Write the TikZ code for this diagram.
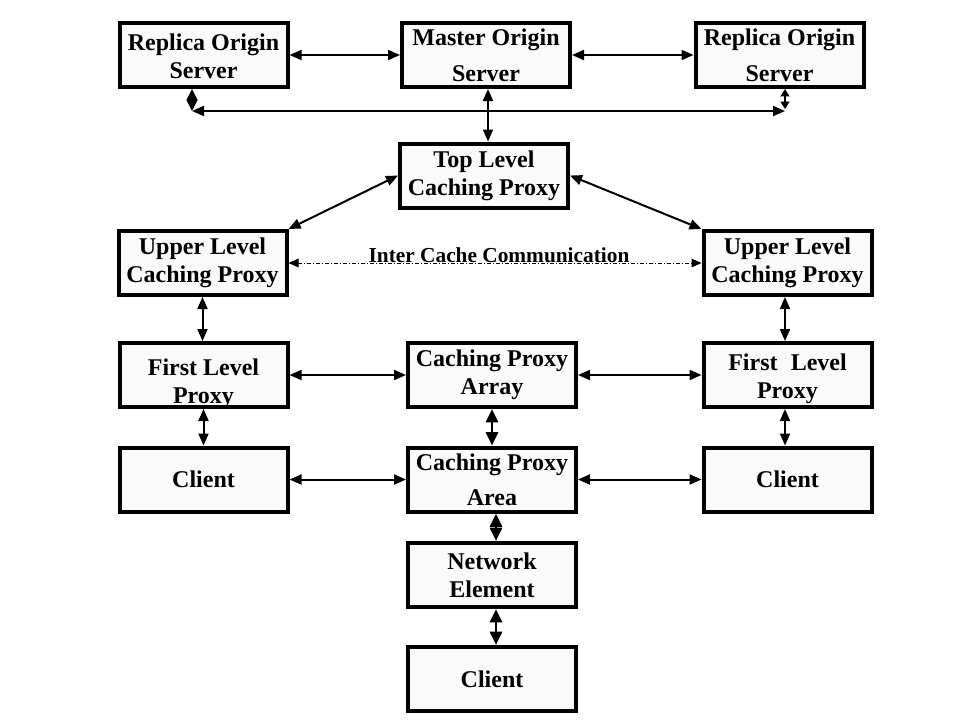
\documentclass[tikz,border=0pt]{standalone}
\usepackage{fontspec}
\setmainfont{Liberation Serif}
\usetikzlibrary{arrows.meta,calc}
\begin{document}
\begin{tikzpicture}[x=0.75pt,y=-0.75pt,
  box/.style={draw, line width=3pt, fill=gray!4, minimum width=126pt, minimum height=48pt,
    inner sep=0pt, align=center, font=\fontsize{18}{21}\selectfont\bfseries},
  conn/.style={line width=1.5pt, {Triangle[length=9pt,width=7.5pt]}-{Triangle[length=9pt,width=7.5pt]}},
  thickconn/.style={line width=2.2pt, {Triangle[length=10pt,width=9pt]}-{Triangle[length=10pt,width=9pt]}},
  diamondconn/.style={line width=1.5pt, {Triangle[length=8.25pt,width=8pt]}-{Triangle[length=8.25pt,width=8pt]}},
  smallconn/.style={line width=1.5pt, {Triangle[length=5.5pt,width=6.5pt]}-{Triangle[length=5.5pt,width=6.5pt]}},
  dotconn/.style={line width=0.75pt, dash pattern=on 3pt off 1.5pt on 0.75pt off 1.5pt,
    {Triangle[length=7.5pt,width=6.5pt]}-{Triangle[length=7.5pt,width=6.5pt]}},
  lbl/.style={font=\fontsize{16}{18}\selectfont\bfseries, inner sep=0pt}
]
\useasboundingbox (0,0) rectangle (959,719);

% boxes
\node[box] (RL) at (203.5,55) {\raisebox{-7.5pt}[0pt][0pt]{\begin{tabular}{@{}c@{}}Replica Origin\\Server\end{tabular}}};
\node[box] (M)  at (486,55) {Master Origin\\[6pt]Server};
\node[box] (RR) at (779.5,55) {Replica Origin\\[6pt]Server};
\node[box] (T)  at (484,175.5) {Top Level\\Caching Proxy};
\node[box] (UL) at (202.5,263) {Upper Level\\Caching Proxy};
\node[box] (UR) at (787.5,263) {Upper Level\\Caching Proxy};
\node[box] (FL) at (203.5,375) {\raisebox{-11pt}[0pt][0pt]{\begin{tabular}{@{}c@{}}First Level\\Proxy\end{tabular}}};
\node[box] (A)  at (492,375) {Caching Proxy\\Array};
\node[box] (FR) at (787.5,375) {\raisebox{-7.5pt}[0pt][0pt]{\begin{tabular}{@{}c@{}}First\hspace{0.3em} Level\\Proxy\end{tabular}}};
\node[box] (CL) at (203.5,479.5) {Client};
\node[box] (AR) at (492,479.5) {Caching Proxy\\[5pt]Area};
\node[box] (CR) at (787.5,479.5) {Client};
\node[box] (N)  at (492,575) {Network\\Element};
\node[box] (CB) at (492,679) {Client};

% top row
\draw[conn] (RL.east) -- (RL.east -| M.west);
\draw[conn] (M.east) -- (M.east -| RR.west);

% bar under origin servers
\coordinate (hl) at (192,111);
\coordinate (hr) at (785,111);
\coordinate (dl) at (192,111);
\coordinate (dr) at (785,109);
\draw[diamondconn] ($(RL.south)+(-11.5,0)$) -- (dl);
\draw[smallconn] ($(RR.south)+(5.5,0)$) -- (dr);
\draw[conn] (hl) -- (hr);
\draw[conn] ($(M.south)+(2,0)$) -- ($(T.north)+(4,0)$);

% diagonals
\draw[conn] (T.west) -- (UL.north east);
\draw[conn] (T.east) -- (UR.north west);

% inter cache communication
\draw[dotconn] (UL.east) -- (UR.west);
\node[lbl, anchor=base] (icc) at (499,262) {Inter Cache Communication};

% verticals left / right
\draw[conn] (UL.south) -- (UL.south |- FL.north);
\draw[conn] (FL.south) -- (FL.south |- CL.north);
\draw[conn] ($(UR.south)+(-2.5,0)$) -- ($(FR.north)+(-2.5,0)$);
\draw[conn] ($(FR.south)+(-2.5,0)$) -- ($(CR.north)+(-2.5,0)$);

% horizontals
\draw[conn] (FL.east) -- (A.west);
\draw[conn] (A.east) -- (FR.west);
\draw[conn] (CL.east) -- (AR.west);
\draw[conn] (AR.east) -- (CR.west);

% center column
\draw[thickconn] (A.south) -- (AR.north);
\draw[thickconn] ($(AR.south)+(4,0)$) -- ($(N.north)+(4,0)$);
\draw[thickconn] ($(N.south)+(4,0)$) -- ($(CB.north)+(4,0)$);
\end{tikzpicture}
\end{document}
